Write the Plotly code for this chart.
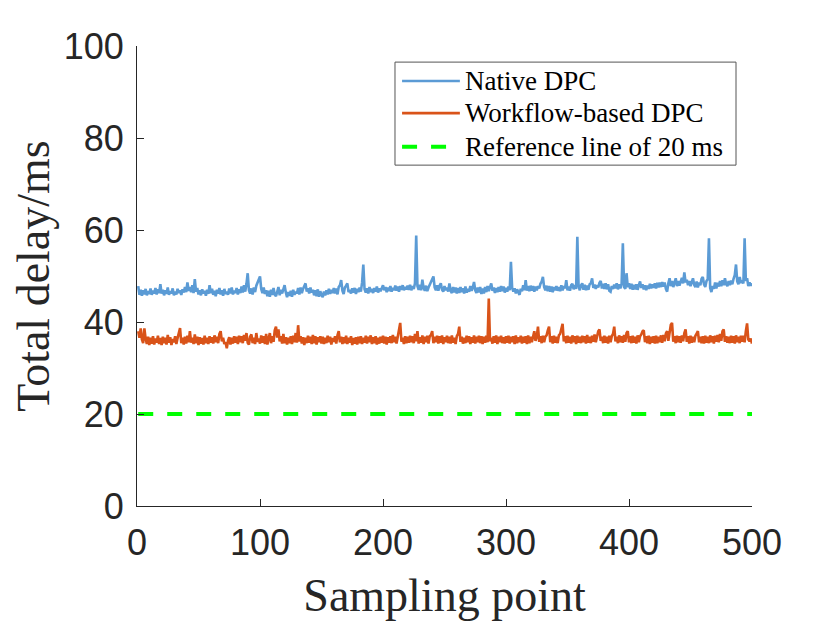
import plotly.graph_objects as go

# sampling points 1..500
sample = list(range(1, 501))

native_dpc = [
    47.8, 45.9, 47.0, 45.7, 46.9, 46.0, 47.2, 45.8, 46.7, 46.1, 47.3, 45.9, 46.8, 46.2, 47.4, 46.0, 47.1, 46.3, 48.2, 46.2,
    47.0, 45.8, 46.9, 46.1, 47.5, 45.9, 46.7, 46.2, 47.3, 45.8, 46.6, 46.0, 47.2, 46.3, 46.9, 45.9, 47.1, 46.4, 47.6, 46.5,
    48.6, 46.8, 47.6, 46.5, 48.0, 46.3, 49.3, 46.6, 47.4, 46.0, 46.9, 45.8, 47.1, 46.2, 46.8, 45.7, 47.0, 46.1, 48.0, 46.3,
    47.2, 45.9, 46.8, 45.6, 47.0, 46.2, 47.4, 46.0, 46.9, 45.7, 47.2, 46.1, 46.6, 45.9, 47.3, 46.2, 47.5, 46.0, 46.8, 46.3,
    47.4, 46.0, 47.1, 46.3, 47.7, 46.4, 48.0, 46.6, 48.3, 50.6, 46.9, 46.2, 47.3, 46.0, 47.5, 46.5, 47.9, 48.6, 49.2, 49.9,
    47.2, 46.3, 47.5, 46.1, 46.9, 45.6, 46.8, 45.5, 47.0, 45.9, 47.4, 46.0, 45.6, 46.9, 47.6, 45.8, 47.0, 46.2, 47.3, 48.0,
    46.4, 45.4, 46.5, 45.7, 46.8, 45.5, 47.0, 45.9, 46.6, 46.2, 47.4, 46.0, 47.5, 46.3, 47.2, 48.0, 48.4, 46.6, 47.3, 46.2,
    47.5, 46.4, 47.0, 45.8, 46.9, 45.6, 47.1, 45.5, 46.7, 45.9, 45.4, 46.6, 45.8, 46.9, 46.0, 47.2, 46.1, 47.0, 46.3, 47.4,
    46.2, 47.3, 46.0, 47.6, 48.0, 49.1, 46.8, 46.1, 47.5, 47.9, 48.4, 46.5, 47.0, 46.2, 47.3, 46.4, 47.4, 46.1, 47.2, 46.5,
    47.5, 46.6, 48.6, 52.5, 47.1, 46.4, 47.3, 46.2, 47.6, 46.5, 47.2, 46.3, 47.4, 46.6, 47.7, 46.4, 47.3, 46.7, 47.5, 48.0,
    46.9, 47.6, 46.5, 47.5, 46.7, 47.8, 46.6, 47.4, 46.9, 47.9, 46.8, 47.7, 46.6, 47.8, 47.0, 48.0, 46.9, 47.6, 47.1, 47.9,
    47.0, 48.1, 46.9, 47.8, 47.2, 48.4, 58.8, 47.8, 47.0, 48.1, 46.9, 49.2, 47.4, 46.8, 47.9, 46.7, 47.5, 48.1, 48.7, 49.3,
    49.9, 47.5, 46.9, 48.0, 46.8, 47.9, 48.4, 47.0, 46.6, 47.8, 46.9, 47.5, 46.6, 48.4, 46.8, 46.3, 47.6, 46.4, 47.5, 46.2,
    47.4, 46.3, 47.6, 46.5, 47.3, 46.2, 47.7, 46.4, 47.2, 46.6, 47.8, 46.8, 47.5, 48.7, 46.9, 46.3, 47.5, 46.4, 47.6, 46.1,
    47.3, 46.2, 47.6, 46.5, 47.8, 46.7, 47.4, 48.4, 46.8, 47.5, 46.3, 47.4, 46.5, 47.6, 46.6, 47.8, 46.7, 47.7, 46.4, 47.4,
    46.6, 47.7, 46.9, 53.1, 47.4, 46.6, 47.3, 46.2, 47.1, 46.3, 45.9, 47.2, 46.7, 48.0, 46.9, 49.1, 46.8, 47.8, 46.7, 47.9,
    46.8, 47.8, 46.6, 47.7, 46.9, 47.8, 47.3, 48.3, 48.8, 49.8, 47.6, 46.9, 47.9, 46.7, 47.8, 46.6, 47.7, 46.5, 47.6, 46.9,
    47.8, 46.8, 47.6, 46.7, 48.0, 46.9, 47.8, 47.3, 49.1, 46.9, 47.7, 46.8, 48.0, 48.3, 47.1, 48.0, 47.2, 58.5, 47.8, 46.9,
    48.0, 48.4, 47.0, 48.1, 46.9, 47.9, 47.0, 48.2, 48.4, 49.5, 47.4, 48.1, 47.2, 48.0, 47.5, 48.5, 48.9, 47.3, 48.3, 47.2,
    48.4, 47.1, 48.2, 46.8, 46.6, 47.8, 47.2, 48.1, 47.3, 48.4, 47.1, 48.2, 47.3, 48.3, 57.1, 47.6, 47.2, 50.6, 47.6, 48.4,
    47.2, 48.3, 47.0, 48.1, 47.1, 48.2, 47.0, 48.0, 48.8, 47.4, 48.2, 47.1, 48.0, 46.9, 47.9, 47.2, 48.3, 47.3, 48.2, 47.4,
    48.4, 47.3, 48.5, 47.5, 48.6, 47.6, 48.7, 47.7, 48.6, 47.2, 46.6, 48.4, 49.5, 47.8, 48.9, 47.6, 48.8, 49.5, 47.8, 48.9,
    47.9, 49.0, 49.6, 48.4, 50.8, 48.6, 49.2, 48.0, 48.9, 47.8, 48.7, 49.5, 48.1, 47.6, 48.8, 47.5, 48.6, 48.0, 49.4, 49.8,
    48.2, 47.6, 48.9, 49.3, 58.2, 47.4, 46.5, 47.8, 47.2, 48.6, 47.3, 48.5, 47.7, 48.9, 47.8, 49.1, 48.0, 49.5, 48.2, 47.8,
    48.9, 48.0, 49.0, 48.2, 49.4, 50.2, 52.5, 48.8, 48.2, 49.8, 48.5, 49.0, 48.4, 58.2, 48.9, 49.5, 47.8, 48.6, 47.9, 48.4,
]

workflow_dpc = [
    38.0, 36.6, 38.6, 36.2, 35.4, 38.6, 36.4, 35.2, 36.8, 35.0, 36.6, 35.3, 36.9, 35.1, 36.4, 35.5, 37.0, 35.2, 36.5, 35.0,
    36.8, 35.4, 36.6, 35.1, 37.2, 35.5, 36.7, 35.0, 36.3, 35.6, 36.9, 35.2, 36.5, 37.8, 38.7, 35.4, 36.6, 35.1, 36.8, 35.3,
    37.0, 35.6, 38.0, 35.5, 36.6, 35.2, 37.3, 35.4, 36.8, 35.0, 36.7, 35.3, 36.5, 35.1, 37.0, 35.4, 36.6, 35.2, 36.9, 35.5,
    36.7, 35.3, 37.1, 35.6, 36.8, 35.4, 37.4, 38.0, 35.8, 36.6, 35.2, 35.6, 34.3, 35.9, 36.7, 35.1, 36.6, 35.3, 36.9, 35.5,
    36.8, 35.2, 37.0, 35.6, 36.9, 35.4, 37.2, 35.9, 37.6, 35.5, 35.1, 36.8, 37.3, 35.4, 36.6, 35.2, 37.6, 35.7, 36.4, 35.3,
    37.1, 35.5, 36.9, 35.2, 37.4, 35.1, 36.8, 37.6, 35.4, 36.9, 35.7, 38.2, 39.0, 36.6, 38.4, 35.8, 36.9, 35.3, 37.4, 35.4,
    36.7, 35.1, 36.6, 35.4, 36.9, 35.2, 37.0, 35.6, 37.6, 35.5, 39.3, 35.8, 36.9, 35.3, 36.7, 35.0, 36.6, 35.4, 37.0, 35.5,
    36.8, 35.2, 37.2, 35.4, 36.9, 35.1, 36.7, 35.6, 36.9, 35.3, 36.8, 35.2, 36.6, 35.4, 37.0, 35.6, 36.8, 35.1, 36.5, 35.7,
    36.9, 35.3, 37.1, 38.0, 35.6, 36.8, 35.2, 36.7, 35.4, 37.0, 35.2, 36.6, 35.5, 36.9, 35.0, 36.5, 35.3, 36.7, 35.1, 36.8,
    35.4, 36.9, 35.2, 36.6, 35.5, 37.0, 35.3, 36.8, 35.6, 37.1, 35.2, 36.7, 35.4, 36.9, 35.1, 36.6, 35.3, 36.8, 35.5, 37.0,
    35.3, 36.8, 35.1, 36.7, 35.5, 36.9, 35.4, 37.2, 35.6, 36.8, 35.3, 37.0, 38.2, 39.8, 35.7, 36.6, 35.2, 36.9, 35.4, 36.8,
    35.5, 37.0, 35.6, 36.9, 35.4, 37.4, 35.8, 38.0, 35.3, 36.7, 35.5, 37.1, 35.2, 36.8, 35.6, 37.0, 35.3, 36.9, 37.2, 38.0,
    35.4, 36.8, 35.6, 37.0, 35.3, 36.9, 35.5, 37.1, 35.2, 36.7, 35.6, 37.0, 35.4, 36.8, 35.3, 37.1, 35.5, 36.6, 35.2, 36.9,
    37.4, 39.0, 35.7, 36.8, 35.3, 36.6, 35.4, 37.0, 35.6, 36.9, 35.2, 36.7, 35.5, 37.1, 35.3, 36.8, 35.6, 37.0, 35.4, 36.9,
    35.2, 36.8, 35.5, 37.0, 35.6, 45.1, 35.8, 36.6, 35.3, 36.9, 35.5, 37.1, 35.2, 36.8, 35.6, 37.0, 35.4, 36.7, 35.3, 36.9,
    35.5, 37.0, 35.3, 36.8, 35.6, 36.9, 35.2, 37.1, 35.4, 36.7, 35.6, 37.0, 35.3, 36.8, 35.5, 36.9, 35.2, 37.1, 35.4, 36.8,
    35.6, 37.2, 38.0, 35.9, 36.8, 39.0, 35.7, 36.9, 35.4, 37.0, 35.6, 36.8, 37.1, 38.2, 39.0, 35.6, 36.9, 35.3, 37.0, 35.5,
    36.8, 35.4, 37.1, 37.4, 38.3, 39.6, 35.8, 36.9, 35.4, 37.0, 35.5, 36.8, 35.3, 37.1, 35.6, 36.9, 35.2, 37.0, 35.5, 36.8,
    35.4, 37.0, 35.6, 36.9, 35.3, 37.2, 35.5, 36.8, 35.4, 37.0, 35.7, 37.3, 35.6, 37.2, 38.0, 38.4, 35.9, 36.8, 35.4, 37.0,
    35.5, 36.8, 35.3, 37.0, 35.6, 36.9, 37.4, 39.0, 35.8, 36.8, 35.4, 37.1, 35.6, 36.9, 35.5, 37.2, 35.7, 37.6, 38.0, 35.6,
    36.9, 35.4, 37.0, 35.5, 36.8, 35.3, 37.1, 35.6, 36.9, 37.3, 38.0, 38.2, 35.6, 36.9, 35.4, 37.0, 35.2, 36.8, 35.5, 36.9,
    35.3, 37.0, 35.4, 36.8, 35.6, 37.1, 35.5, 37.2, 35.8, 37.5, 38.0, 35.9, 37.6, 39.4, 39.8, 35.7, 36.9, 35.4, 37.0, 35.6,
    36.9, 35.5, 37.1, 35.8, 37.6, 38.4, 35.7, 36.9, 35.3, 37.0, 35.5, 36.8, 35.6, 37.0, 37.5, 38.0, 35.6, 36.8, 35.4, 36.9,
    35.3, 37.0, 35.5, 36.8, 35.4, 37.1, 35.6, 36.9, 35.3, 37.0, 35.7, 37.2, 35.6, 37.4, 35.9, 38.0, 38.4, 35.7, 36.9, 35.5,
    36.8, 35.4, 37.0, 35.5, 36.9, 35.3, 37.1, 35.6, 36.8, 35.4, 37.0, 35.7, 37.0, 35.6, 38.0, 39.7, 36.2, 35.8, 36.4, 35.3,
]

# 20 ms reference line
ref_x = [1, 500]
ref_y = [20, 20]

x_ticks = [0, 100, 200, 300, 400, 500]
y_ticks = [0, 20, 40, 60, 80, 100]

series_names = ['Native DPC', 'Workflow-based DPC', 'Reference line of 20 ms']
series_colors = ['#5B9BD5', '#D95319', '#00FF00']

axis_color = '#262626'

fig = go.Figure()
fig.add_trace(go.Scatter(x=sample, y=native_dpc, mode='lines', name=series_names[0],
                         line=dict(color=series_colors[0], width=2.6), showlegend=False))
fig.add_trace(go.Scatter(x=sample, y=workflow_dpc, mode='lines', name=series_names[1],
                         line=dict(color=series_colors[1], width=2.6), showlegend=False))
fig.add_trace(go.Scatter(x=ref_x, y=ref_y, mode='lines', name=series_names[2],
                         line=dict(color=series_colors[2], width=4, dash='15px,14px'),
                         showlegend=False))

# MATLAB-style legend box drawn in paper coordinates
shapes = [dict(type='rect', xref='paper', yref='paper', x0=0.4195, x1=0.974, y0=0.741, y1=0.965,
               line=dict(color='#555555', width=1), fillcolor='white', layer='above')]
annotations = []
row_y = [0.924, 0.854, 0.781]
dashes = ['solid', 'solid', '15px,14px']
widths = [2.6, 2.6, 4]
for name, color, yy, dsh, w in zip(series_names, series_colors, row_y, dashes, widths):
    shapes.append(dict(type='line', xref='paper', yref='paper', x0=0.431, x1=0.525, y0=yy, y1=yy,
                       line=dict(color=color, width=w, dash=dsh), layer='above'))
    annotations.append(dict(text=name, xref='paper', yref='paper', x=0.530, y=yy,
                            xanchor='left', yanchor='middle', showarrow=False,
                            font=dict(family='Liberation Serif', size=27, color='black')))

fig.update_layout(
    # page body has an 8px margin, so the figure is 8px smaller than the window
    width=822, height=615,
    margin=dict(l=129, r=78, t=38, b=117),
    paper_bgcolor='white', plot_bgcolor='white',
    showlegend=False,
    shapes=shapes, annotations=annotations,
)
fig.update_xaxes(
    range=[0, 500], tickvals=x_ticks, ticks='inside', ticklen=7, tickcolor=axis_color,
    showline=True, linecolor=axis_color, linewidth=1, showgrid=False, zeroline=False,
    automargin=False, ticklabelstandoff=5,
    tickfont=dict(family='Liberation Sans', size=36, color=axis_color),
    title=dict(text='Sampling point', standoff=16,
               font=dict(family='Liberation Serif', size=46, color=axis_color)),
)
fig.update_yaxes(
    range=[0, 100], tickvals=y_ticks, ticks='inside', ticklen=7, tickcolor=axis_color,
    showline=True, linecolor=axis_color, linewidth=1, showgrid=False, zeroline=False,
    automargin=False, ticklabelstandoff=5,
    tickfont=dict(family='Liberation Sans', size=36, color=axis_color),
    title=dict(text='Total delay/ms', standoff=22,
               font=dict(family='Liberation Serif', size=46, color=axis_color)),
)

fig.write_html("out.html")
